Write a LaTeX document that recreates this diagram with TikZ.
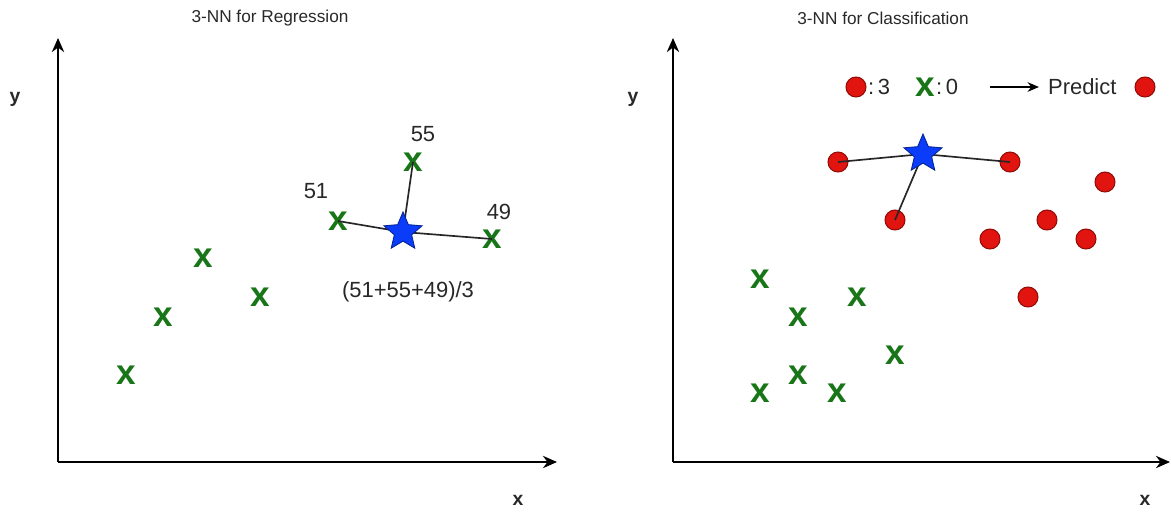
\documentclass[tikz,border=0pt]{standalone}
\usepackage{fontspec}
\setmainfont{Liberation Sans}
\usetikzlibrary{shapes.geometric,arrows.meta}
\definecolor{xgreen}{RGB}{24,118,24}
\definecolor{ptred}{RGB}{225,20,15}
\definecolor{qblue}{RGB}{10,60,250}
\definecolor{lbl}{RGB}{40,40,40}
\tikzset{
    xmark/.style={text=xgreen, font=\fontsize{20}{20}\selectfont\bfseries, inner sep=0pt},
    redpt/.style={circle, fill=ptred, draw=ptred!65!black, line width=0.6pt, minimum size=0.4cm, inner sep=0pt},
    query/.style={star, star points=5, star point ratio=2.2, fill=qblue, draw=qblue!60!black, line width=0.5pt, minimum size=0.8cm, inner sep=0pt},
    axis/.style={line width=1.1pt, -{Stealth[length=8pt, width=7pt]}},
    link/.style={line width=0.95pt, black!85},
    lab/.style={text=lbl, font=\fontsize{12.5}{14}\selectfont, inner sep=1pt},
    ttl/.style={text=lbl, font=\fontsize{9.8}{11}\selectfont, inner sep=1pt},
    axlab/.style={text=lbl, font=\fontsize{11}{12}\selectfont\bfseries, inner sep=1pt}
}
\begin{document}
\begin{tikzpicture}[x=0.02cm, y=-0.02cm]
    \useasboundingbox (0,0) rectangle (1171,512);

    % regression panel
    \node[ttl] (t1) at (270,18) {3-NN for Regression};
    \coordinate (o1) at (58,462);
    \coordinate (ytip1) at (58,38);
    \coordinate (xtip1) at (557,462);
    \draw[axis] (o1) -- (ytip1);
    \draw[axis] (o1) -- (xtip1);
    \node[axlab] (ylab1) at (15,99) {y};
    \node[axlab] (xlab1) at (518,500) {x};
    \foreach \n/\px/\py in {a/126/375, b/163/317, c/203/258, d/260/297, e/338/221, f/413/162, g/492/239}
        \node[xmark] (r\n) at (\px,\py) {x};
    \coordinate (q1) at (403,232);
    \foreach \n in {e, f, g}
        \draw[link] (r\n.center) -- (q1);
    \node[query] (star1) at (q1) {};
    \node[lab] (v55) at (423,134) {55};
    \node[lab] (v51) at (316,191) {51};
    \node[lab] (v49) at (499,212) {49};
    \node[lab] (avg) at (408,292) {(51+55+49)/3};

    % classification panel
    \node[ttl] (t2) at (883,18) {3-NN for Classification};
    \coordinate (o2) at (673,462);
    \coordinate (ytip2) at (673,38);
    \coordinate (xtip2) at (1170,462);
    \draw[axis] (o2) -- (ytip2);
    \draw[axis] (o2) -- (xtip2);
    \node[axlab] (ylab2) at (633,99) {y};
    \node[axlab] (xlab2) at (1145,500) {x};
    \foreach \n/\px/\py in {a/760/279, b/798/317, c/857/297, d/895/355, e/760/393, f/798/375, g/837/393}
        \node[xmark] (c\n) at (\px,\py) {x};
    \foreach \n/\px/\py in {a/838/162, b/1010/162, c/895/220, d/990/239, e/1047/220, f/1086/239, g/1105/182, h/1028/297}
        \node[redpt] (p\n) at (\px,\py) {};
    \coordinate (q2) at (923,154);
    \foreach \n in {a, b, c}
        \draw[link] (p\n.center) -- (q2);
    \node[query] (star2) at (q2) {};

    % vote legend
    \node[redpt] (kred) at (856,87) {};
    \node[lab, anchor=west] (kred3) at (866,87) {:\,3};
    \node[xmark] (kgrn) at (925,87) {x};
    \node[lab, anchor=west] (kgrn0) at (934,87) {:\,0};
    \coordinate (arrs) at (990,87);
    \node[lab, anchor=west] (pred) at (1046,87) {Predict};
    \draw[line width=0.9pt, shorten >=4pt, -{Stealth[length=6.5pt, width=5.5pt]}] (arrs) -- (pred.west);
    \node[redpt] (pres) at (1145,87) {};
\end{tikzpicture}
\end{document}
